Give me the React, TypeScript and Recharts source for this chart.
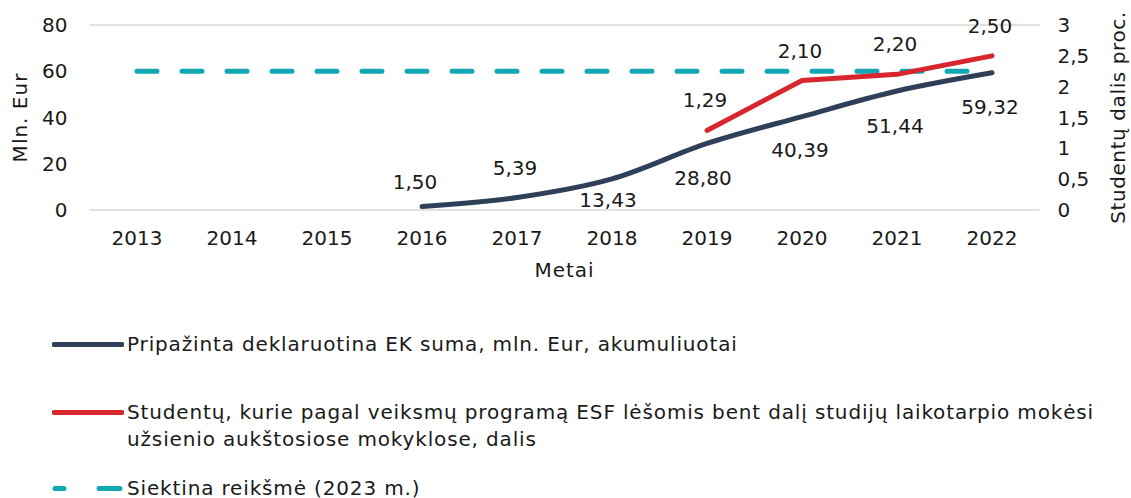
import React from 'react';
import { LineChart, Line, XAxis, YAxis, CartesianGrid, Legend, LabelList } from 'recharts';

const years = ['2013', '2014', '2015', '2016', '2017', '2018', '2019', '2020', '2021', '2022'];
const declaredSum = [null, null, null, 1.5, 5.39, 13.43, 28.8, 40.39, 51.44, 59.32];
const studentShare = [null, null, null, null, null, null, 1.29, 2.1, 2.2, 2.5];
const targetValue = [60, 60, 60, 60, 60, 60, 60, 60, 60, 60];
const leftTicks = [0, 20, 40, 60, 80];
const rightTicks = [0, 0.5, 1, 1.5, 2, 2.5, 3];

const seriesNames = {
  declared: 'Pripažinta deklaruotina EK suma, mln. Eur, akumuliuotai',
  share: 'Studentų, kurie pagal veiksmų programą ESF lėšomis bent dalį studijų laikotarpio mokėsi užsienio aukštosiose mokyklose, dalis',
  target: 'Siektina reikšmė (2023 m.)',
};

const data = years.map((y, i) => ({
  year: y,
  declared: declaredSum[i],
  share: studentShare[i],
  target: targetValue[i],
}));

const NAVY = '#2E3F58';
const RED = '#D7262E';
const TEAL = '#12A8B3';
const FONT = '"DejaVu Sans", sans-serif';
const TEXT = '#1a1a1a';

const fmt = (v: number) => v.toFixed(2).replace('.', ',');
const fmtTick = (v: number) => String(v).replace('.', ',');

const declaredDy: Record<number, number> = { 3: -25, 4: -30, 5: 21, 6: 35, 7: 33, 8: 35, 9: 34 };
const declaredDx: Record<number, number> = { 3: -7, 4: -2, 5: -4, 6: -4, 7: -2, 8: -2, 9: -2 };

const makeLabel = (dyMap: Record<number, number> | null, dyDefault: number, dxMap: Record<number, number> | null) =>
  (props: any) => {
    const { x, y, value, index } = props;
    if (value === null || value === undefined) return null;
    const dy = dyMap && dyMap[index] !== undefined ? dyMap[index] : dyDefault;
    const dx = dxMap && dxMap[index] !== undefined ? dxMap[index] : -2;
    return (
      <text x={x + dx} y={y + dy} textAnchor="middle" dominantBaseline="central"
        fontFamily={FONT} fontSize={20} fill={TEXT}>
        {fmt(value)}
      </text>
    );
  };

const LegendContent = () => {
  const items = [
    { key: 'declared', color: NAVY, dashed: false, top: 0 },
    { key: 'share', color: RED, dashed: false, top: 68 },
    { key: 'target', color: TEAL, dashed: true, top: 144 },
  ];
  return (
    <div style={{ position: 'relative', width: 1131, height: 180, fontFamily: FONT, fontSize: 20, color: TEXT, letterSpacing: '0.85px' }}>
      {items.map((it) => (
        <div key={it.key} style={{ position: 'absolute', left: 52, top: it.top, display: 'flex', alignItems: 'flex-start' }}>
          <svg width={72} height={27} style={{ flex: '0 0 auto' }}>
            {it.dashed ? (
              <g stroke={it.color} strokeWidth={5} strokeLinecap="round">
                <line x1={3} y1={13.5} x2={12} y2={13.5} />
                <line x1={47} y1={13.5} x2={68} y2={13.5} />
              </g>
            ) : (
              <line x1={2} y1={13.5} x2={70} y2={13.5} stroke={it.color} strokeWidth={5} strokeLinecap="round" />
            )}
          </svg>
          <div style={{ width: 980, lineHeight: '27px', marginLeft: 3 }}>{(seriesNames as any)[it.key]}</div>
        </div>
      ))}
    </div>
  );
};

export default function App() {
  return (
    <div style={{ position: 'absolute', left: 0, top: 0, width: 1131, height: 498, background: '#fff' }}>
      <LineChart width={1131} height={498} data={data}
        margin={{ top: 25, right: 31.5, left: 29.5, bottom: 218 }}>
        <CartesianGrid vertical={false} stroke="#d9d9d9" strokeWidth={1.5} />
        <XAxis dataKey="year" axisLine={false} tickLine={false} tickSize={0} tickMargin={21} height={70}
          padding={{ left: 47.5, right: 47.5 }} interval={0}
          tick={{ fontFamily: FONT, fontSize: 20, fill: TEXT }}
          label={{ value: 'Metai', position: 'insideBottom', offset: 3, fontFamily: FONT, fontSize: 20, fill: TEXT, letterSpacing: 1 }} />
        <YAxis yAxisId="left" orientation="left" domain={[0, 80]} ticks={leftTicks} width={60}
          axisLine={false} tickLine={false} tickSize={0} tickMargin={22} interval={0}
          tick={{ fontFamily: FONT, fontSize: 20, fill: TEXT }}
          label={{ value: 'Mln. Eur', angle: -90, position: 'insideLeft', offset: -10, style: { textAnchor: 'middle' }, fontFamily: FONT, fontSize: 20, fill: TEXT, letterSpacing: 1 }} />
        <YAxis yAxisId="right" orientation="right" domain={[0, 3]} ticks={rightTicks} width={60}
          axisLine={false} tickLine={false} tickSize={0} tickMargin={18} interval={0}
          tickFormatter={fmtTick}
          tick={{ fontFamily: FONT, fontSize: 20, fill: TEXT, textAnchor: 'start' }}
          label={{ value: 'Studentų dalis proc.', angle: -90, position: 'insideRight', offset: -18, style: { textAnchor: 'middle' }, fontFamily: FONT, fontSize: 20, fill: TEXT, letterSpacing: 0.6 }} />
        <Line yAxisId="left" dataKey="target" name={seriesNames.target} stroke={TEAL} strokeWidth={5}
          strokeDasharray="20 25" strokeLinecap="round" dot={false} activeDot={false} isAnimationActive={false} type="linear" />
        <Line yAxisId="left" dataKey="declared" name={seriesNames.declared} stroke={NAVY} strokeWidth={5}
          strokeLinecap="round" dot={false} activeDot={false} isAnimationActive={false} type="monotone" connectNulls={false}>
          <LabelList dataKey="declared" content={makeLabel(declaredDy, 30, declaredDx)} />
        </Line>
        <Line yAxisId="right" dataKey="share" name={seriesNames.share} stroke={RED} strokeWidth={5}
          strokeLinecap="round" strokeLinejoin="round" dot={false} activeDot={false} isAnimationActive={false} type="linear">
          <LabelList dataKey="share" content={makeLabel(null, -30, null)} />
        </Line>
        <Legend layout="horizontal" verticalAlign="middle" content={<LegendContent />}
          wrapperStyle={{ top: 331, left: 0, width: 1131 }} />
      </LineChart>
    </div>
  );
}
